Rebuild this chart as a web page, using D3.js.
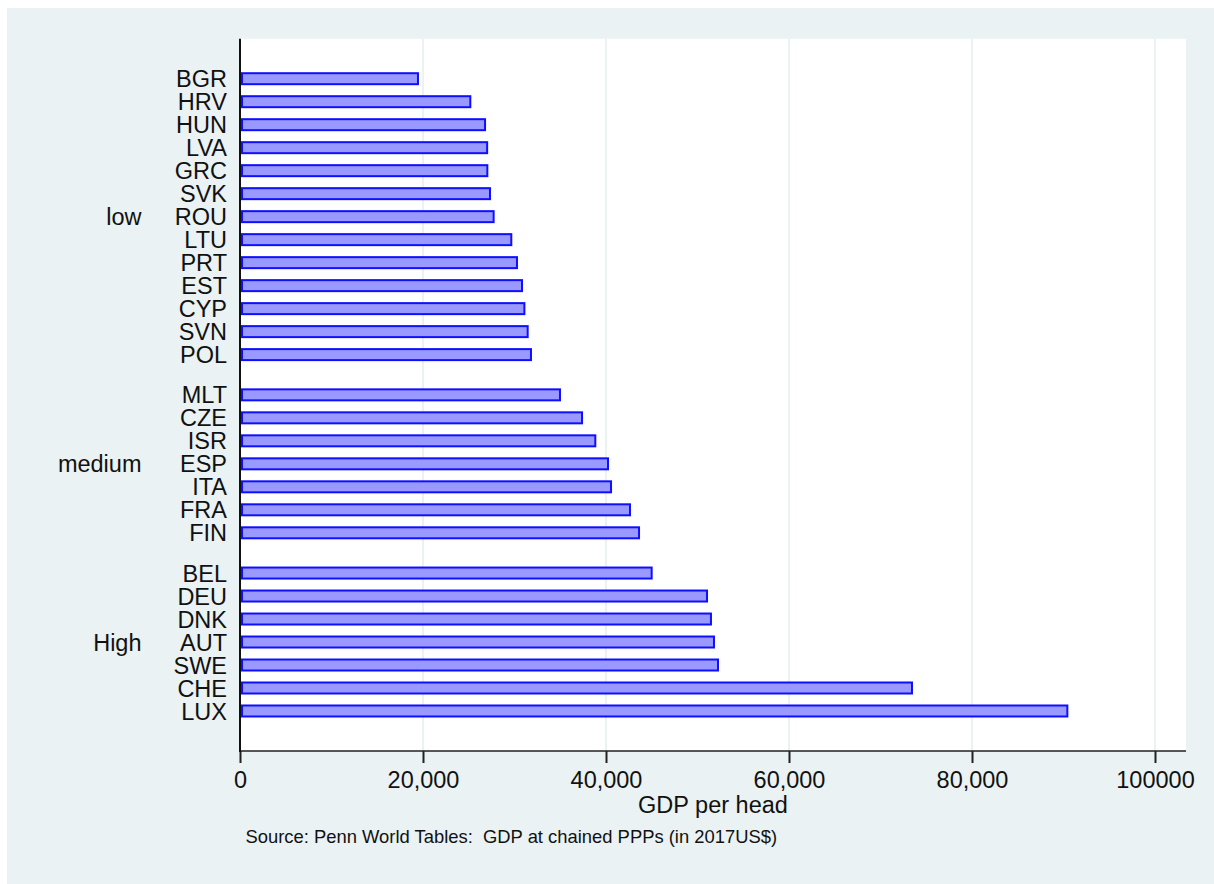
<!DOCTYPE html>
<html>
<head>
<meta charset="utf-8">
<script src="https://cdn.jsdelivr.net/npm/d3@7"></script>
<style>
  html, body { margin: 0; padding: 0; background: #ffffff; }
  svg { display: block; }
  text { font-family: "Liberation Sans", Arial, Helvetica, sans-serif; fill: #111; }
</style>
</head>
<body>
<svg id="chart" width="1214" height="884"></svg>
<script>
// ---- data ----
const groupNames = ["low", "medium", "High"];
const countries = [
  "BGR","HRV","HUN","LVA","GRC","SVK","ROU","LTU","PRT","EST","CYP","SVN","POL",
  "MLT","CZE","ISR","ESP","ITA","FRA","FIN",
  "BEL","DEU","DNK","AUT","SWE","CHE","LUX"
];
const countryGroup = [
  0,0,0,0,0,0,0,0,0,0,0,0,0,
  1,1,1,1,1,1,1,
  2,2,2,2,2,2,2
];
const gdpPerHead = [
  19560, 25280, 26890, 27120, 27140, 27430, 27830, 29760, 30380, 30930, 31190, 31550, 31910,
  35080, 37490, 38940, 40330, 40660, 42730, 43720,
  45100, 51150, 51580, 51910, 52350, 73550, 90530
];
const tickValues = [0, 20000, 40000, 60000, 80000, 100000];
const tickLabels = ["0", "20,000", "40,000", "60,000", "80,000", "100000"];
const xTitle = "GDP per head";
const note = "Source: Penn World Tables:  GDP at chained PPPs (in 2017US$)";

// ---- layout ----
const svg = d3.select("#chart");
const W = 1214, H = 884;
const plot = { left: 240, right: 1186, top: 38.7, bottom: 751 };
const groupGap = 0.75, edgePad = 1.74;

svg.append("rect").attr("x", 7).attr("y", 8).attr("width", W - 7).attr("height", H - 8)
  .attr("fill", "#eaf2f3");
svg.append("rect").attr("x", plot.left).attr("y", plot.top)
  .attr("width", plot.right - plot.left).attr("height", plot.bottom - plot.top)
  .attr("fill", "#ffffff");

const x = d3.scaleLinear().domain([0, 100000]).range([plot.left, 1155]);

const pos = countries.map((c, i) => i + countryGroup[i] * groupGap);
const y = d3.scaleLinear()
  .domain([pos[0] - edgePad, pos[pos.length - 1] + edgePad])
  .range([plot.top, plot.bottom]);
const barH = 13;

// gridlines
svg.append("g").selectAll("line").data(tickValues.filter(v => v > 0)).join("line")
  .attr("x1", d => x(d)).attr("x2", d => x(d))
  .attr("y1", plot.top).attr("y2", plot.bottom)
  .attr("stroke", "#eaf2f3").attr("stroke-width", 2);

// bars
svg.append("g").selectAll("rect").data(countries).join("rect")
  .attr("x", x(0) + 2)
  .attr("y", (d, i) => y(pos[i]) - barH / 2 + 1)
  .attr("width", (d, i) => x(gdpPerHead[i]) - x(0) - 3)
  .attr("height", barH - 2)
  .attr("fill", "#9999ff")
  .attr("stroke", "#0f0fff")
  .attr("stroke-width", 2);

// category labels
const fs = 23.5;
svg.append("g").selectAll("text").data(countries).join("text")
  .attr("x", 227)
  .attr("y", (d, i) => y(pos[i]) + 8.6)
  .attr("text-anchor", "end")
  .attr("font-size", fs)
  .text(d => d);

// group labels
svg.append("g").selectAll("text").data(groupNames).join("text")
  .attr("x", 141.5)
  .attr("y", (g, gi) => {
    const ps = pos.filter((p, i) => countryGroup[i] === gi);
    return y(d3.mean(ps)) + 8.6;
  })
  .attr("text-anchor", "end")
  .attr("font-size", fs)
  .text(d => d);

// x axis
const xAxis = d3.axisBottom(x).tickValues(tickValues)
  .tickFormat((d, i) => tickLabels[i]).tickSize(12).tickPadding(10).tickSizeOuter(0);
const gx = svg.append("g").attr("transform", `translate(0,${plot.bottom})`).call(xAxis);
gx.select(".domain").remove();
gx.selectAll(".tick line").attr("stroke", "#222").attr("stroke-width", 2);
gx.selectAll(".tick text").attr("font-size", fs).attr("fill", "#111")
  .attr("font-family", "'Liberation Sans', Arial, sans-serif")
  .attr("dy", null).attr("y", 36.5);
svg.append("line").attr("x1", plot.left).attr("x2", plot.right)
  .attr("y1", plot.bottom).attr("y2", plot.bottom)
  .attr("stroke", "#222").attr("stroke-width", 1.6);

// y axis line
svg.append("line").attr("x1", plot.left).attr("x2", plot.left)
  .attr("y1", plot.top).attr("y2", plot.bottom + 1)
  .attr("stroke", "#111").attr("stroke-width", 2);

// axis title
svg.append("text").attr("x", (plot.left + plot.right) / 2).attr("y", 813)
  .attr("text-anchor", "middle").attr("font-size", fs).text(xTitle);

// note
svg.append("text").attr("x", 245.5).attr("y", 843)
  .attr("font-size", 18.4).attr("xml:space", "preserve").style("white-space", "pre")
  .text(note);
</script>
</body>
</html>
